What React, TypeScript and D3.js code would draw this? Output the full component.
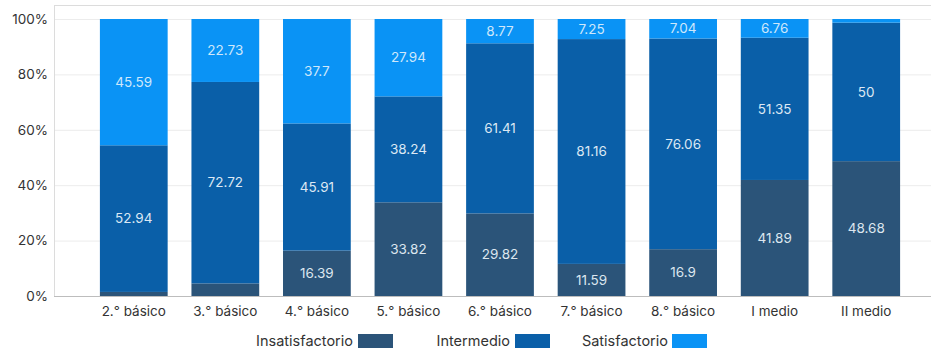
import * as React from "react";
import { scaleBand, scaleLinear, stack } from "d3";

const grades = ["2.° básico", "3.° básico", "4.° básico", "5.° básico", "6.° básico", "7.° básico", "8.° básico", "I medio", "II medio"];
const insatisfactorio = [1.47, 4.55, 16.39, 33.82, 29.82, 11.59, 16.9, 41.89, 48.68];
const intermedio = [52.94, 72.72, 45.91, 38.24, 61.41, 81.16, 76.06, 51.35, 50];
const satisfactorio = [45.59, 22.73, 37.7, 27.94, 8.77, 7.25, 7.04, 6.76, 1.32];
const yTicks = [0, 20, 40, 60, 80, 100];

const seriesKeys = ["Insatisfactorio", "Intermedio", "Satisfactorio"];
const seriesValues = [insatisfactorio, intermedio, satisfactorio];
const colors = ["#2b5479", "#0a5fa8", "#0a93f5"];
const labelColors = ["#dce6ef", "#dce8f4", "#cfe8fb"];

const W = 931;
const H = 355;
const font = "Inter, 'Noto Sans', sans-serif";

export default function App() {
  const rows = grades.map((g, i) => ({
    grade: g,
    Insatisfactorio: insatisfactorio[i],
    Intermedio: intermedio[i],
    Satisfactorio: satisfactorio[i],
  }));
  const series = stack<any>().keys(seriesKeys)(rows);

  const x = scaleBand().domain(grades).range([88, 912]).paddingInner(0.26).paddingOuter(0.13);
  const y = scaleLinear().domain([0, 100]).range([296, 19]);

  const legend = [
    { label: "Insatisfactorio", tx: 353, sx: 358 },
    { label: "Intermedio", tx: 510, sx: 515 },
    { label: "Satisfactorio", tx: 668, sx: 672 },
  ];

  return (
    <svg width={W} height={H} style={{ position: "absolute", left: 0, top: 0, background: "#fff" }}>
      {/* plot frame */}
      <line x1={54.5} x2={W} y1={5.5} y2={5.5} stroke="#dcdcdc" />
      <line x1={54.5} x2={54.5} y1={5} y2={296} stroke="#dcdcdc" />
      {yTicks.map((t) => (
        <g key={t}>
          {t > 0 && <line x1={55} x2={W} y1={y(t) + 0.5} y2={y(t) + 0.5} stroke="#ececec" />}
          <text x={48} y={y(t)} dy="0.35em" textAnchor="end" fontFamily={font} fontSize={13.5} fill="#333">
            {t}%
          </text>
        </g>
      ))}
      {series.map((s, si) => (
        <g key={s.key}>
          {s.map((d: any, i: number) => {
            const x0 = x(grades[i]) as number;
            const h = y(d[0]) - y(d[1]);
            const v = seriesValues[si][i];
            return (
              <g key={i}>
                <rect x={x0} y={y(d[1])} width={x.bandwidth()} height={h} fill={colors[si]} />
                {v >= 5 && (
                  <text
                    x={x0 + x.bandwidth() / 2}
                    y={(y(d[0]) + y(d[1])) / 2}
                    dy="0.35em"
                    textAnchor="middle"
                    fontFamily={font}
                    fontSize={13.5}
                    fill={labelColors[si]}
                  >
                    {v}
                  </text>
                )}
              </g>
            );
          })}
        </g>
      ))}
      <line x1={54} x2={W} y1={296.5} y2={296.5} stroke="#bdbdbd" />
      {grades.map((g) => (
        <text
          key={g}
          x={(x(g) as number) + x.bandwidth() / 2}
          y={311}
          dy="0.35em"
          textAnchor="middle"
          fontFamily={font}
          fontSize={13.5}
          fill="#333"
        >
          {g}
        </text>
      ))}
      {legend.map((l, i) => (
        <g key={l.label}>
          <text x={l.tx} y={341} dy="0.35em" textAnchor="end" fontFamily={font} fontSize={14.5} fill="#333">
            {l.label}
          </text>
          <rect x={l.sx} y={334} width={35} height={14} fill={colors[i]} />
        </g>
      ))}
    </svg>
  );
}
